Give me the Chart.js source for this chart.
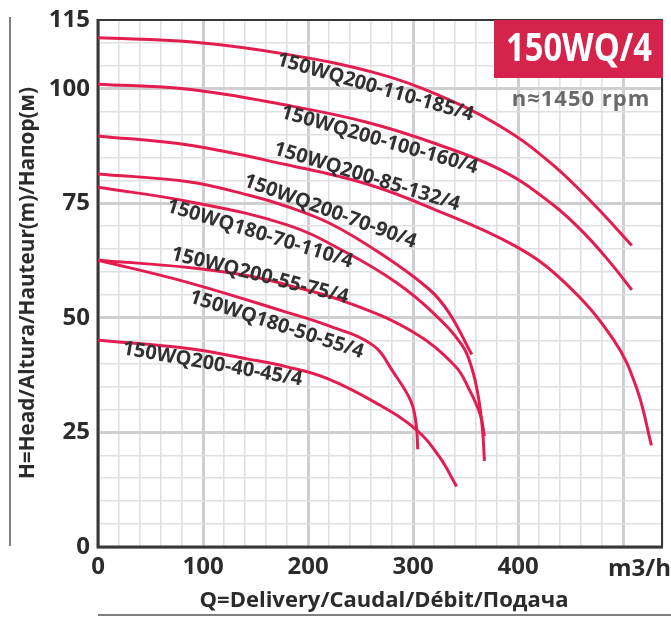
<!DOCTYPE html>
<html>
<head>
<meta charset="utf-8">
<script src="https://cdn.jsdelivr.net/npm/chart.js@4.4.0/dist/chart.umd.min.js"></script>
<style>
  html, body { margin: 0; padding: 0; background: #fff; }
  #wrap { width: 671px; height: 618px; position: relative; }
</style>
</head>
<body>
<div id="wrap"><canvas id="pumpCurves"></canvas></div>
<script>
// pump curves (Q in m3/h, H in m)
var modelNames = [
  '150WQ200-110-185/4', '150WQ200-100-160/4', '150WQ200-85-132/4', '150WQ200-70-90/4',
  '150WQ180-70-110/4', '150WQ200-55-75/4', '150WQ180-50-55/4', '150WQ200-40-45/4'
];
var qA = [0, 90, 180, 265, 322, 384.5, 431.5, 472, 508.3];
var hA = [111.1, 110.2, 107.5, 103.4, 98.8, 91.6, 83.7, 74.8, 65.8];
var qB = [0, 86, 180, 256, 321.7, 384.5, 431.5, 462.8, 488, 508.3];
var hB = [101, 99.9, 96.4, 92.7, 88, 82.2, 75, 68.5, 62, 56.1];
var qC = [0, 86, 180, 256, 319, 397, 444, 491, 513, 527];
var hC = [89.7, 87.7, 83.4, 79.2, 73.8, 65.7, 57.8, 45.2, 34.6, 22.2];
var qD = [0, 86, 143, 180, 221, 268, 315, 334, 356];
var hD = [81.4, 79.7, 76.8, 74.3, 70.6, 64.2, 56.3, 51.2, 42];
var qE = [0, 86, 180, 237, 284, 318.6, 346.8, 356, 362, 366, 368];
var hE = [78.5, 75.4, 70.3, 64.2, 57.7, 51.2, 44, 39, 33, 26, 18.8];
var qF = [0, 86, 143, 180, 237, 300, 340, 353, 364, 368];
var hF = [62.6, 61, 59.2, 57.2, 53.4, 46.9, 39.5, 34.6, 28.9, 24.2];
var qG = [0, 86, 180, 218, 262, 281, 298, 303, 304.5];
var hG = [62.6, 57.7, 51.2, 48.4, 44, 38.2, 31.8, 26.7, 21.3];
var qH = [0, 86, 143, 180, 218, 265, 303, 325, 341.5];
var hH = [45.1, 43.3, 41, 39.3, 36.8, 31.4, 25.6, 19.7, 13.2];

// where each model name sits (data units) and its tilt in degrees
var labelQ = [264, 268, 256, 221, 154, 154, 170, 109];
var labelH = [100.3, 88.8, 80.8, 73.2, 68.3, 59.2, 48.5, 39.9];
var labelTilt = [16, 16, 17, 20, 17, 14, 18, 10];

var yTickLabels = [0, 25, 50, 75, 100, 115];
var xTickLabels = [0, 100, 200, 300, 400];

var curveColor = '#e31d50';
var inkColor = '#2d2a2b';

function pts(qs, hs) {
  return qs.map(function (q, i) { return {x: q, y: hs[i]}; });
}
var allQ = [qA, qB, qC, qD, qE, qF, qG, qH];
var allH = [hA, hB, hC, hD, hE, hF, hG, hH];

var datasets = allQ.map(function (qs, i) {
  return {
    label: modelNames[i],
    data: pts(qs, allH[i]),
    borderColor: curveColor,
    borderWidth: 3,
    pointRadius: 0,
    fill: false,
    tension: 0.4
  };
});

var decorations = {
  id: 'decorations',
  beforeDatasetsDraw: function (chart) {
    var c = chart.ctx, a = chart.chartArea;
    c.save();
    c.strokeStyle = '#3a3637';
    c.lineWidth = 2;
    c.beginPath();
    c.moveTo(a.left, a.top); c.lineTo(a.right - 1, a.top); c.lineTo(a.right - 1, a.bottom);
    c.stroke();
    c.lineWidth = 3;
    c.beginPath();
    c.moveTo(a.left, a.top - 1); c.lineTo(a.left, a.bottom); c.lineTo(a.right, a.bottom);
    c.stroke();
    c.restore();
  },
  afterDatasetsDraw: function (chart) {
    var c = chart.ctx, a = chart.chartArea;
    var xs = chart.scales.x, ys = chart.scales.y;
    c.save();
    // model names along the curves
    c.fillStyle = '#333031';
    c.font = 'bold 20px "Open Sans"';
    c.textAlign = 'center';
    c.textBaseline = 'middle';
    modelNames.forEach(function (name, i) {
      c.save();
      c.translate(xs.getPixelForValue(labelQ[i]), ys.getPixelForValue(labelH[i]));
      c.rotate(labelTilt[i] * Math.PI / 180);
      c.fillText(name, 0, 0, 204);
      c.restore();
    });
    // series box, top right
    c.fillStyle = '#d6234b';
    c.fillRect(a.right - 169, a.top, 169, 58);
    c.fillStyle = '#ffffff';
    c.font = 'bold 40px "Open Sans"';
    c.fillText('150WQ/4', a.right - 84, a.top + 30, 146);
    c.fillStyle = '#6a6869';
    c.font = 'bold 22px "Open Sans"';
    c.letterSpacing = '1px';
    c.fillText('n\u22481450 rpm', a.right - 82, a.top + 80, 144);
    c.letterSpacing = '0px';
    // unit on the Q axis
    c.fillStyle = inkColor;
    c.font = 'bold 24px "Open Sans"';
    c.textAlign = 'right';
    c.fillText('m3/h', 671, a.bottom + 22);
    // axis titles with their rules
    c.textAlign = 'center';
    c.font = 'bold 22px "Open Sans"';
    c.fillText('Q=Delivery/Caudal/D\u00e9bit/\u041f\u043e\u0434\u0430\u0447\u0430', 384, 601, 414);
    c.save();
    c.translate(28, 283);
    c.rotate(-Math.PI / 2);
    c.font = 'bold 21px "Open Sans"';
    c.fillText('H=Head/Altura/Hauteur(m)/\u041d\u0430\u043f\u043e\u0440(\u043c)', 0, 0, 392);
    c.restore();
    c.strokeStyle = '#555';
    c.lineWidth = 1.5;
    c.beginPath();
    c.moveTo(10, 17); c.lineTo(10, 546);
    c.moveTo(98, 615); c.lineTo(671, 615);
    c.stroke();
    c.restore();
  }
};

new Chart(document.getElementById('pumpCurves').getContext('2d'), {
  type: 'line',
  data: {datasets: datasets},
  options: {
    responsive: true,
    maintainAspectRatio: false,
    animation: false,
    layout: {padding: {top: 15, right: 1, left: 0, bottom: 0}},
    plugins: {legend: {display: false}, tooltip: {enabled: false}},
    scales: {
      x: {
        type: 'linear',
        min: 0,
        max: 538,
        afterFit: function (s) { s.height = 71; },
        border: {display: false},
        grid: {
          drawTicks: false,
          color: function (ctx) { return ctx.tick && ctx.tick.value % 100 === 0 ? '#cfcfcf' : '#e0e0e0'; },
          lineWidth: function (ctx) { return ctx.tick && ctx.tick.value % 100 === 0 ? 3 : 1.6; }
        },
        ticks: {
          stepSize: 20,
          autoSkip: false,
          maxRotation: 0,
          padding: 8,
          color: inkColor,
          font: {family: 'Open Sans', size: 24, weight: 'bold', lineHeight: 1},
          callback: function (v) { return xTickLabels.indexOf(v) >= 0 ? String(v) : ''; }
        }
      },
      y: {
        min: 0,
        max: 115,
        afterFit: function (s) { s.width = 98; },
        border: {display: false},
        grid: {
          drawTicks: false,
          color: function (ctx) { return ctx.tick && ctx.tick.value % 25 === 0 ? '#cfcfcf' : '#e0e0e0'; },
          lineWidth: function (ctx) { return ctx.tick && ctx.tick.value % 25 === 0 ? 3 : 1.6; }
        },
        ticks: {
          stepSize: 5,
          autoSkip: false,
          padding: 8,
          color: inkColor,
          font: {family: 'Open Sans', size: 24, weight: 'bold', lineHeight: 1},
          callback: function (v) { return yTickLabels.indexOf(v) >= 0 ? String(v) : ''; }
        }
      }
    }
  },
  plugins: [decorations]
});
</script>
</body>
</html>
